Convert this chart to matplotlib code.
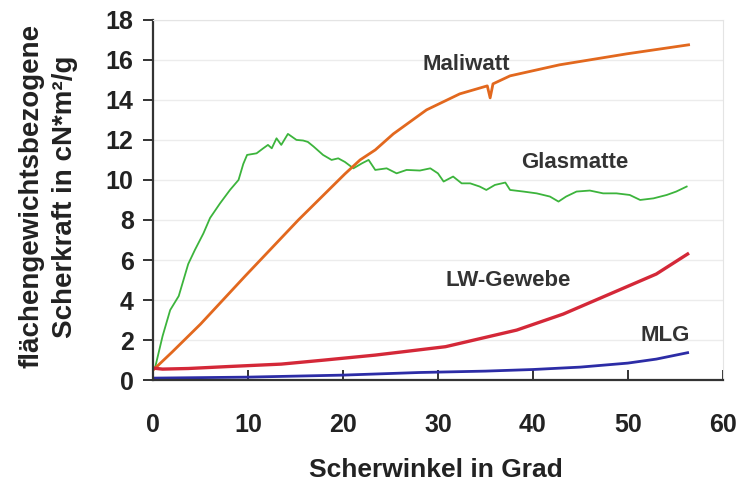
import numpy as np
import matplotlib.pyplot as plt

output_path = "out.png"

# Glasmatte (green)
glas_x = [0.2, 1.0, 1.8, 2.7, 3.7, 4.4, 5.3, 6.0, 7.05, 8.1, 9.0, 9.5, 9.9, 10.9, 11.6,
          12.1, 12.5, 13.0, 13.5, 14.2, 15.1, 15.8, 16.3, 16.9, 17.9, 18.8, 19.5, 20.2,
          21.1, 22.0, 22.7, 23.4, 24.6, 25.65, 26.7, 28.1, 29.2, 30.0, 30.6, 31.6, 32.5,
          33.4, 34.4, 35.1, 36.0, 37.1, 37.6, 39.0, 40.4, 41.8, 42.7, 43.5, 44.6, 46.0,
          47.4, 48.8, 50.2, 51.3, 52.7, 54.1, 55.1, 56.2]
glas_y = [0.6, 2.2, 3.5, 4.2, 5.8, 6.5, 7.33, 8.1, 8.83, 9.5, 10.0, 10.8, 11.25, 11.33, 11.58,
          11.75, 11.58, 12.08, 11.75, 12.3, 12.0, 11.97, 11.9, 11.67, 11.25, 11.0, 11.08, 10.9,
          10.58, 10.83, 11.0, 10.5, 10.58, 10.33, 10.5, 10.47, 10.58, 10.33, 9.92, 10.17, 9.83,
          9.83, 9.67, 9.5, 9.75, 9.87, 9.5, 9.42, 9.33, 9.17, 8.92, 9.17, 9.42, 9.47,
          9.33, 9.33, 9.25, 9.0, 9.08, 9.25, 9.42, 9.67]

# Maliwatt (orange)
mali_x = [0.0, 2.0, 5.0, 9.7, 15.3, 20.2, 21.8, 23.4, 25.3, 28.8, 32.3, 35.2, 35.5, 35.8,
          37.6, 42.8, 49.9, 56.4]
mali_y = [0.5, 1.4, 2.8, 5.2, 8.0, 10.3, 11.0, 11.5, 12.3, 13.5, 14.3, 14.7, 14.1, 14.8,
          15.2, 15.75, 16.3, 16.75]

# LW-Gewebe (red)
lw_x = [0.0, 1.0, 3.7, 8.0, 13.5, 18.0, 23.4, 30.8, 38.3, 43.2, 48.1, 53.0, 56.3]
lw_y = [0.6, 0.55, 0.58, 0.68, 0.8, 1.0, 1.25, 1.67, 2.5, 3.3, 4.3, 5.3, 6.3]

# MLG (blue)
mlg_x = [0.0, 10.0, 20.0, 28.0, 35.0, 40.0, 45.0, 50.0, 53.0, 56.3]
mlg_y = [0.1, 0.15, 0.25, 0.38, 0.45, 0.53, 0.65, 0.85, 1.05, 1.37]

plt.rcParams['font.family'] = ['Liberation Sans', 'DejaVu Sans']
plt.rcParams['font.weight'] = 'bold'

fig = plt.figure(figsize=(7.36, 4.83), dpi=100)
ax = fig.add_axes([0.208, 0.213, 0.774, 0.746])

ax.plot(glas_x, glas_y, color="#3cb43c", linewidth=1.3)
ax.plot(mali_x, mali_y, color="#e2681e", linewidth=2.0)
ax.plot(lw_x, lw_y, color="#d42838", linewidth=2.4)
ax.plot(mlg_x, mlg_y, color="#2c2ca6", linewidth=2.0)

lbl = dict(fontsize=16, fontweight='bold', color="#333333", ha='center', va='center')
ax.text(33.0, 15.75, "Maliwatt", **lbl)
ax.text(44.4, 10.85, "Glasmatte", **lbl)
ax.text(37.4, 5.0, "LW-Gewebe", **lbl)
ax.text(53.9, 2.25, "MLG", **lbl)

ax.set_xlim(0, 60)
ax.set_ylim(0, 18)
ax.set_xticks(np.arange(0, 61, 10))
ax.set_yticks(np.arange(0, 19, 2))
ax.yaxis.grid(True, color="#ececec", linewidth=1.0)
ax.set_axisbelow(True)

for s in ("top", "right"):
    ax.spines[s].set_color("#e4e4e4")
for s in ("left", "bottom"):
    ax.spines[s].set_color("#333333")
    ax.spines[s].set_linewidth(1.6)

ax.tick_params(axis='y', direction='out', length=7, width=1.4, color="#333333",
               labelsize=18, pad=7)
ax.tick_params(axis='x', direction='in', length=7, width=1.4, color="#333333",
               labelsize=18, pad=24)
for t in ax.get_xticklabels() + ax.get_yticklabels():
    t.set_fontweight('bold')
    t.set_color("#222222")

ax.set_xlabel("Scherwinkel in Grad", fontsize=19, fontweight='bold', color="#222222")
ax.xaxis.label.set_va('center')
ax.xaxis.set_label_coords(0.496, -0.25)
ax.set_ylabel("flächengewichtsbezogene\nScherkraft in cN*m²/g", fontsize=20,
              fontweight='bold', color="#222222", multialignment='center',
              linespacing=1.35)
ax.yaxis.label.set_va('center')
ax.yaxis.set_label_coords(-0.184, 0.51)

plt.savefig(output_path, dpi=100)
